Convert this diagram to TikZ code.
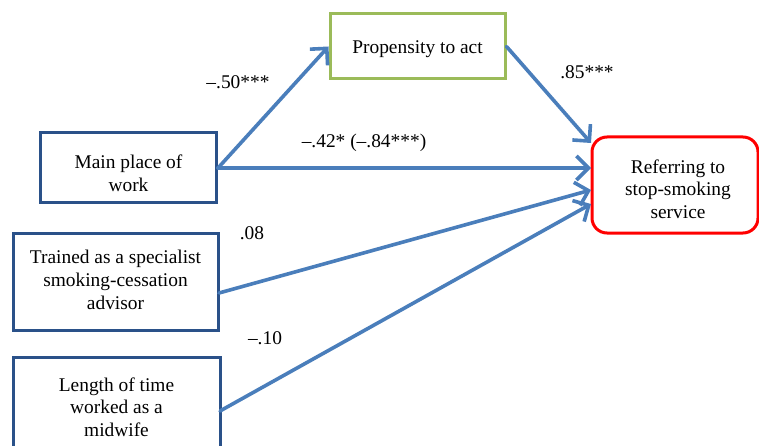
\documentclass[tikz,border=0pt]{standalone}
\usepackage{fontspec}
\setmainfont{Liberation Serif}
\usetikzlibrary{arrows.meta}
\definecolor{navy}{HTML}{2A5189}
\definecolor{olive}{HTML}{9BBB59}
\definecolor{redbox}{HTML}{FF0000}
\definecolor{arrowblue}{HTML}{4A7EBB}
\begin{document}
\begin{tikzpicture}[x=1pt,y=-1pt,
  every node/.style={font=\fontsize{19.4}{22.7}\selectfont, inner sep=0pt, align=center},
  box/.style={draw=navy, line width=3pt, rectangle},
  greenbox/.style={draw=olive, line width=3pt, rectangle},
  redrbox/.style={draw=redbox, line width=3pt, rectangle, rounded corners=15pt},
  conn/.style={draw=arrowblue, line width=3.6pt, line cap=round,
    -{Straight Barb[length=12pt,width=24pt,line width=3.6pt]}},
  lbl/.style={font=\fontsize{19.4}{22.7}\selectfont}
]
\useasboundingbox (0,0) rectangle (759,446);
\clip (0,0) rectangle (759,446);
\node[greenbox, minimum width=175pt, minimum height=65pt,
  label={[yshift=-3pt]center:Propensity to act}] (prop) at (417.5,46.5) {};
\node[box, minimum width=176pt, minimum height=70pt,
  label={[yshift=-5pt]center:Main place of\\work}] (main) at (128.5,168) {};
\node[box, minimum width=205pt, minimum height=97pt,
  label={[yshift=1.5pt]center:Trained as a specialist\\smoking-cessation\\advisor}] (trained) at (115.5,281.5) {};
\node[box, minimum width=207pt, minimum height=100pt,
  label={[yshift=0pt]center:Length of time\\worked as a\\midwife}] (length) at (116.5,407) {};
\node[redrbox, minimum width=166pt, minimum height=96pt,
  label={[xshift=3pt,yshift=-4pt]center:Referring to\\stop-smoking\\service}] (ref) at (675,185) {};

\coordinate (r1) at (591,143);
\coordinate (r2) at (591,168);
\coordinate (r3) at (591,190);
\coordinate (r4) at (591,204);
\coordinate (tr) at (219,293);
\coordinate (ln) at (220,411);

\draw[conn] (main.east) -- (prop.west);
\draw[conn] (prop.east) -- (r1);
\draw[conn] (main.east) -- (r2);
\draw[conn] (tr) -- (r3);
\draw[conn] (ln) -- (r4);

\node[lbl] (l1) at (238,82) {–.50***};
\node[lbl] (l2) at (587,72) {.85***};
\node[lbl] (l3) at (364,143) {–.42* (–.84***)};
\node[lbl] (l4) at (252,233) {.08};
\node[lbl] (l5) at (265,338) {–.10};
\end{tikzpicture}
\end{document}
